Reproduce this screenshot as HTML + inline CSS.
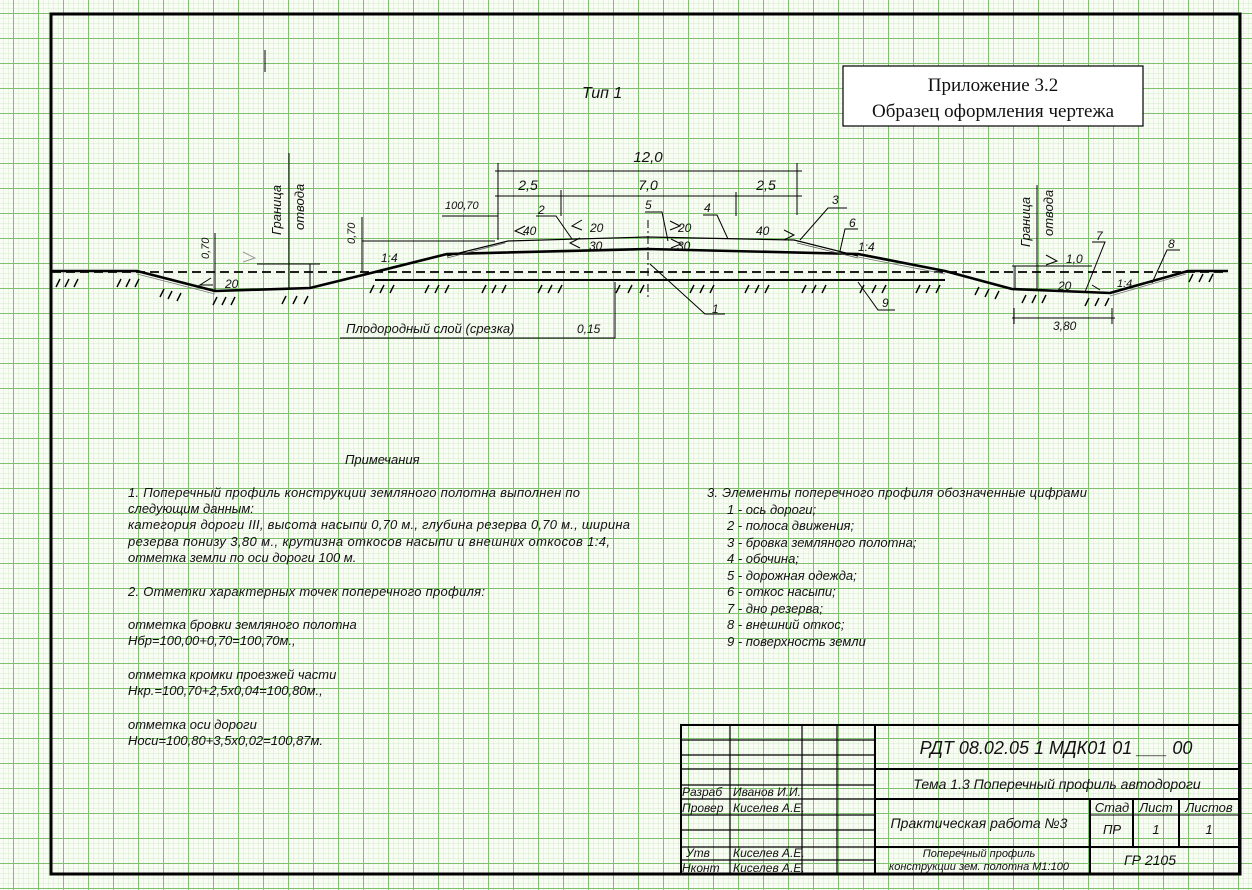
<!DOCTYPE html>
<html><head><meta charset="utf-8"><style>
html,body{margin:0;padding:0;background:#f8fcf4;}
svg{display:block;}
text{font-family:"Liberation Sans","DejaVu Sans",sans-serif;font-style:italic;fill:#111;}
</style></head><body>
<svg width="1252" height="890" viewBox="0 0 1252 890" xmlns="http://www.w3.org/2000/svg">
<defs>
<pattern id="minor" x="13" y="13" width="5" height="5" patternUnits="userSpaceOnUse">
<path d="M0 0H5M0 0V5" stroke="#d6ebcc" stroke-width="1" fill="none"/>
</pattern>
<pattern id="major" x="13" y="13" width="25" height="25" patternUnits="userSpaceOnUse">
<path d="M0 0.5H25M0.5 0V25" stroke="#7fbf6e" stroke-width="1" fill="none"/>
</pattern>
</defs>
<rect width="1252" height="890" fill="#f8fcf4"/>
<rect width="1252" height="890" fill="url(#minor)"/>
<rect width="1252" height="890" fill="url(#major)"/>

<!-- frame -->
<rect x="51" y="14" width="1189" height="860" fill="none" stroke="#000" stroke-width="3"/>

<!-- title box -->
<rect x="843" y="66" width="300" height="60" fill="#fff" stroke="#000" stroke-width="1.2"/>
<text x="993" y="91" text-anchor="middle" style="font-family:'Liberation Serif',serif;font-style:normal;font-size:19px">Приложение 3.2</text>
<text x="993" y="117" text-anchor="middle" style="font-family:'Liberation Serif',serif;font-style:normal;font-size:19px">Образец оформления чертежа</text>

<line x1="265" y1="50" x2="265" y2="72" stroke="#000" stroke-width="1"/>
<text x="582" y="98" font-size="16">Тип 1</text>

<g stroke="#000" fill="none">
<!-- dashed ground -->
<line x1="52" y1="272" x2="1228" y2="272" stroke-width="1.8" stroke-dasharray="9,5"/>
<!-- natural ground under embankment -->
<line x1="375" y1="280" x2="945" y2="280" stroke-width="2"/>
<!-- main profile thick -->
<polyline points="52,271 137,271 215,291 310,288 375,272 447,254 647,249 858,254 945,271 1012,289 1110,293 1188,271 1228,271" stroke-width="2.6" stroke-linejoin="round"/>
<!-- top surface thin -->
<polyline points="447,256 508,241 647,237 794,240 858,256" stroke-width="1.2"/>
<polyline points="447,258 505,243" stroke-width="0.8" stroke="#555"/>
<polyline points="797,243 858,258" stroke-width="0.8" stroke="#555"/>
<line x1="858" y1="257" x2="945" y2="274" stroke-width="0.8" stroke="#777"/>
<line x1="1110" y1="296" x2="1186" y2="274" stroke-width="0.8" stroke="#777"/>
<line x1="137" y1="274" x2="215" y2="294" stroke-width="0.8" stroke="#777"/>
<!-- center line -->
<line x1="648" y1="220" x2="648" y2="300" stroke-width="1" stroke-dasharray="8,3,2,3"/>

<!-- dims 12.0 -->
<line x1="495" y1="171" x2="802" y2="171" stroke-width="1"/>
<line x1="498" y1="163" x2="498" y2="240" stroke-width="1"/>
<line x1="797" y1="163" x2="797" y2="215" stroke-width="1"/>
<line x1="495" y1="196" x2="802" y2="196" stroke-width="1"/>
<line x1="561" y1="190" x2="561" y2="216" stroke-width="1"/>
<line x1="736" y1="192" x2="736" y2="216" stroke-width="1"/>
<!-- 100,70 leader -->
<line x1="442" y1="216" x2="498" y2="216" stroke-width="1"/>
<!-- 0,70 -->
<line x1="362" y1="217" x2="362" y2="272" stroke-width="1"/>
<line x1="362" y1="241" x2="495" y2="241" stroke-width="1"/>

<!-- leaders -->
<polyline points="536,216 556,216 572,239" stroke-width="1"/>
<polyline points="645,212 662,212 668,241" stroke-width="1"/>
<polyline points="703,215 717,215 728,239" stroke-width="1"/>
<polyline points="847,208 828,208 800,240" stroke-width="1"/>
<polyline points="858,229 845,229 840,251" stroke-width="1"/>
<polyline points="650,264 705,314 725,314" stroke-width="1"/>
<polyline points="858,282 878,310 895,310" stroke-width="1"/>
<!-- Плодородный -->
<polyline points="340,338 615,338 615,282" stroke-width="1"/>

<!-- left ditch dims -->
<line x1="215" y1="233" x2="215" y2="291" stroke-width="1"/>
<line x1="257" y1="264" x2="320" y2="264" stroke-width="1"/>
<line x1="310" y1="264" x2="310" y2="288" stroke-width="1"/>
<line x1="289" y1="153" x2="289" y2="289" stroke-width="1"/>
<polyline points="243,252 255,258 243,262" stroke="#999" stroke-width="1"/>

<!-- right ditch dims -->
<line x1="1037" y1="185" x2="1037" y2="290" stroke-width="1"/>
<line x1="1012" y1="266" x2="1092" y2="266" stroke-width="1"/>
<line x1="1015" y1="266" x2="1015" y2="290" stroke-width="1"/>
<polyline points="1046,255 1057,261 1046,265" stroke-width="1"/>
<polyline points="1092,242 1105,242 1085,292" stroke-width="1"/>
<polyline points="1180,250 1167,250 1152,283" stroke-width="1"/>
<line x1="1012" y1="318" x2="1115" y2="318" stroke-width="1"/>
<line x1="1014" y1="308" x2="1014" y2="324" stroke-width="1"/>
<line x1="1112" y1="308" x2="1112" y2="324" stroke-width="1"/>

<!-- slope arrows -->
<polyline points="525,226 515,231 525,235" stroke-width="1"/>
<polyline points="582,220 572,226 582,230" stroke-width="1"/>
<polyline points="580,238 570,243 580,248" stroke-width="1"/>
<polyline points="670,221 680,226 670,230" stroke-width="1"/>
<polyline points="671,239 681,244 671,248" stroke-width="1"/>
<polyline points="784,230 794,235 784,240" stroke-width="1"/>
<polyline points="211,278 200,285 213,285" stroke-width="1"/>
<polyline points="1092,285 1100,290" stroke-width="1"/>
</g>

<!-- hatching -->
<g stroke="#000" stroke-width="1.4">
<path d="M56 287l4-8M65 287l4-8M74 287l4-8 M117 287l4-8M126 287l4-8M135 287l4-8 M160 297l4-8M168 299l4-8M177 301l4-8 M213 305l4-8M222 305l4-8M231 305l4-8 M282 304l4-8M293 304l4-8M304 304l4-8 M370 293l4-8M380 293l4-8M390 293l4-8 M425 293l4-8M435 293l4-8M445 293l4-8 M482 293l4-8M492 293l4-8M502 293l4-8 M538 293l4-8M548 293l4-8M558 293l4-8 M616 293l4-8M628 293l4-8M640 293l4-8 M690 293l4-8M700 293l4-8M710 293l4-8 M745 293l4-8M755 293l4-8M765 293l4-8 M802 293l4-8M812 293l4-8M822 293l4-8 M860 293l4-8M872 293l4-8M882 293l4-8 M916 293l4-8M926 293l4-8M936 293l4-8 M975 295l4-8M985 297l4-8M995 299l4-8 M1022 303l4-8M1032 303l4-8M1042 303l4-8 M1085 306l4-8M1095 306l4-8M1105 306l4-8 M1189 282l4-8M1199 282l4-8M1209 282l4-8"/>
</g>

<!-- drawing labels -->
<g font-size="13">
<text x="648" y="162" text-anchor="middle" font-size="15">12,0</text>
<text x="528" y="190" text-anchor="middle" font-size="14">2,5</text>
<text x="648" y="190" text-anchor="middle" font-size="14">7,0</text>
<text x="766" y="190" text-anchor="middle" font-size="14">2,5</text>
<text x="445" y="209" font-size="11">100,70</text>
<text x="523" y="235" font-size="12">40</text>
<text x="590" y="232" font-size="12">20</text>
<text x="589" y="250" font-size="12">30</text>
<text x="678" y="232" font-size="12">20</text>
<text x="677" y="250" font-size="12">30</text>
<text x="756" y="235" font-size="12">40</text>
<text x="538" y="214" font-size="12">2</text>
<text x="645" y="209" font-size="12">5</text>
<text x="704" y="212" font-size="12">4</text>
<text x="832" y="204" font-size="12">3</text>
<text x="849" y="227" font-size="12">6</text>
<text x="712" y="313" font-size="12">1</text>
<text x="882" y="307" font-size="12">9</text>
<text x="1096" y="240" font-size="12">7</text>
<text x="1168" y="248" font-size="12">8</text>
<text x="381" y="262" font-size="12">1:4</text>
<text x="858" y="251" font-size="12">1:4</text>
<text x="1117" y="287" font-size="11">1:4</text>
<text x="1058" y="290" font-size="12">20</text>
<text x="1066" y="263" font-size="12">1,0</text>
<text x="1053" y="330" font-size="12">3,80</text>
<text x="225" y="288" font-size="12">20</text>
<text x="346" y="333" font-size="13">Плодородный слой (срезка)</text>
<text x="577" y="333" font-size="12">0,15</text>
<text transform="translate(355,244) rotate(-90)" font-size="11">0,70</text>
<text transform="translate(209,259) rotate(-90)" font-size="11">0,70</text>
<text transform="translate(281,235) rotate(-90)" font-size="13">Граница</text>
<text transform="translate(304,230) rotate(-90)" font-size="13">отвода</text>
<text transform="translate(1030,247) rotate(-90)" font-size="13">Граница</text>
<text transform="translate(1053,236) rotate(-90)" font-size="13">отвода</text>
</g>

<!-- notes -->
<g font-size="13">
<text x="345" y="464">Примечания</text>
<text x="128" y="497" textLength="452">1. Поперечный профиль конструкции земляного полотна выполнен по</text>
<text x="128" y="513">следующим данным:</text>
<text x="128" y="529" textLength="502">категория дороги III, высота насыпи 0,70 м., глубина резерва 0,70 м., ширина</text>
<text x="128" y="546" textLength="482">резерва понизу 3,80 м., крутизна откосов насыпи и внешних откосов 1:4,</text>
<text x="128" y="562">отметка земли по оси дороги 100 м.</text>
<text x="128" y="596" textLength="357">2. Отметки характерных точек поперечного профиля:</text>
<text x="128" y="629">отметка бровки земляного полотна</text>
<text x="128" y="645">Нбр=100,00+0,70=100,70м.,</text>
<text x="128" y="679">отметка кромки проезжей части</text>
<text x="128" y="695">Нкр.=100,70+2,5х0,04=100,80м.,</text>
<text x="128" y="729">отметка оси дороги</text>
<text x="128" y="745">Носи=100,80+3,5х0,02=100,87м.</text>

<text x="707" y="497" textLength="380">3. Элементы поперечного профиля обозначенные цифрами</text>
<text x="727" y="514">1 - ось дороги;</text>
<text x="727" y="530">2 - полоса движения;</text>
<text x="727" y="547">3 - бровка земляного полотна;</text>
<text x="727" y="563">4 - обочина;</text>
<text x="727" y="580">5 - дорожная одежда;</text>
<text x="727" y="596">6 - откос насыпи;</text>
<text x="727" y="613">7 - дно резерва;</text>
<text x="727" y="629">8 - внешний откос;</text>
<text x="727" y="646">9 - поверхность земли</text>
</g>

<!-- title block -->
<g stroke="#000" fill="none">
<rect x="681" y="725" width="558" height="149" stroke-width="2"/>
<g stroke-width="1.2">
<line x1="681" y1="740" x2="875" y2="740"/>
<line x1="681" y1="755" x2="875" y2="755"/>
<line x1="681" y1="769" x2="875" y2="769"/>
<line x1="681" y1="785" x2="875" y2="785"/>
<line x1="681" y1="799" x2="875" y2="799"/>
<line x1="681" y1="815" x2="875" y2="815"/>
<line x1="681" y1="830" x2="875" y2="830"/>
<line x1="681" y1="847" x2="875" y2="847"/>
<line x1="681" y1="860" x2="875" y2="860"/>
<line x1="730" y1="725" x2="730" y2="874"/>
<line x1="802" y1="725" x2="802" y2="874"/>
<line x1="837" y1="725" x2="837" y2="874"/>
</g>
<g stroke-width="2">
<line x1="875" y1="725" x2="875" y2="874"/>
<line x1="875" y1="769" x2="1239" y2="769"/>
<line x1="875" y1="799" x2="1239" y2="799"/>
<line x1="875" y1="847" x2="1239" y2="847"/>
<line x1="1090" y1="799" x2="1090" y2="874"/>
<line x1="1133" y1="799" x2="1133" y2="847"/>
<line x1="1179" y1="799" x2="1179" y2="847"/>
</g>
<line x1="1090" y1="815" x2="1239" y2="815" stroke-width="1"/>
</g>
<g font-size="12">
<text x="682" y="796">Разраб</text>
<text x="733" y="796">Иванов И.И.</text>
<text x="682" y="812">Провер</text>
<text x="733" y="812">Киселев А.Е.</text>
<text x="686" y="857">Утв</text>
<text x="733" y="857">Киселев А.Е.</text>
<text x="682" y="872">Нконт</text>
<text x="733" y="872">Киселев А.Е.</text>
<text x="1056" y="754" text-anchor="middle" font-size="18">РДТ   08.02.05 1 МДК01 01 ___ 00</text>
<text x="1057" y="789" text-anchor="middle" font-size="14">Тема 1.3 Поперечный профиль автодороги</text>
<text x="979" y="828" text-anchor="middle" font-size="14">Практическая работа №3</text>
<text x="979" y="857" text-anchor="middle" font-size="11">Поперечный профиль</text>
<text x="979" y="870" text-anchor="middle" font-size="11">конструкции зем. полотна М1:100</text>
<text x="1112" y="812" text-anchor="middle" font-size="13">Стад</text>
<text x="1156" y="812" text-anchor="middle" font-size="13">Лист</text>
<text x="1209" y="812" text-anchor="middle" font-size="13">Листов</text>
<text x="1112" y="834" text-anchor="middle" font-size="13">ПР</text>
<text x="1156" y="834" text-anchor="middle" font-size="13">1</text>
<text x="1209" y="834" text-anchor="middle" font-size="13">1</text>
<text x="1150" y="865" text-anchor="middle" font-size="14">ГР 2105</text>
</g>
</svg>
</body></html>
